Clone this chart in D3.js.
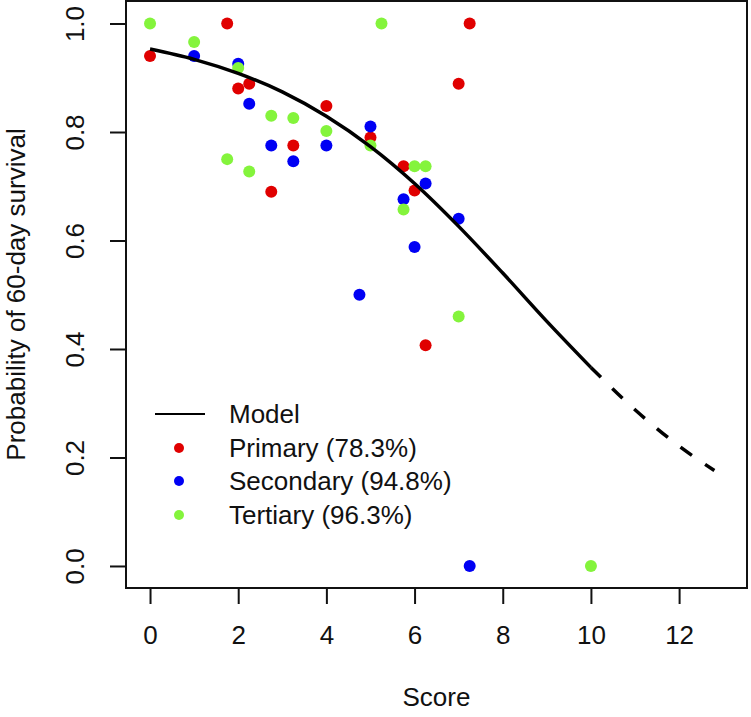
<!DOCTYPE html>
<html>
<head>
<meta charset="utf-8">
<script src="https://cdn.jsdelivr.net/npm/d3@7"></script>
<style>
  html, body { margin: 0; padding: 0; background: #fff; }
  svg { display: block; font-family: "Liberation Sans", Arial, sans-serif; }
</style>
</head>
<body>
<svg id="chart" width="751" height="717"></svg>
<script>
// ---- data ----
const primaryScore = [0, 1.75, 2, 2.25, 2.75, 3.25, 4, 5, 5.75, 6, 6.25, 7, 7.25];
const primarySurv  = [0.94, 1.0, 0.88, 0.889, 0.69, 0.775, 0.848, 0.79, 0.737, 0.692, 0.407, 0.889, 1.0];

const secondaryScore = [1, 2, 2.25, 2.75, 3.25, 4, 4.75, 5, 5.75, 6, 6.25, 7, 7.25];
const secondarySurv  = [0.94, 0.926, 0.852, 0.775, 0.746, 0.775, 0.5, 0.81, 0.676, 0.588, 0.705, 0.64, 0.0];

const tertiaryScore = [0, 1, 1.75, 2, 2.25, 2.75, 3.25, 4, 5, 5.25, 5.75, 6, 6.25, 7, 10];
const tertiarySurv  = [1.0, 0.966, 0.75, 0.918, 0.727, 0.83, 0.826, 0.802, 0.775, 1.0, 0.657, 0.737, 0.737, 0.46, 0.0];

const modelScore = [0, 1, 2, 3, 4, 5, 6, 7, 8, 9, 10, 11, 12, 12.8];
const modelProb  = [0.953, 0.934, 0.908, 0.874, 0.829, 0.773, 0.705, 0.626, 0.540, 0.451, 0.366, 0.288, 0.221, 0.176];
const observedMax = 10;

const xTicks = [0, 2, 4, 6, 8, 10, 12];
const yTicks = [0, 0.2, 0.4, 0.6, 0.8, 1.0];

const seriesNames = ["Primary (78.3%)", "Secondary (94.8%)", "Tertiary (96.3%)"];
const seriesColors = ["#e00000", "#0000f4", "#84f43c"];

// ---- layout ----
const svg = d3.select("#chart");
svg.append("rect").attr("width", 751).attr("height", 717).attr("fill", "#fff");

const L = 126, R = 747, T = 1, B = 588;
const x = d3.scaleLinear().domain([-0.545, 13.54]).range([L, R]);
const y = d3.scaleLinear().domain([-0.0406, 1.0415]).range([B, T]);

const FS = 26;

// x axis
const xAxis = svg.append("g")
  .attr("transform", `translate(0,${B})`)
  .call(d3.axisBottom(x).tickValues(xTicks).tickSize(16).tickPadding(22).tickFormat(d3.format("d")));
xAxis.select(".domain").remove();
xAxis.selectAll(".tick line").attr("stroke", "#111").attr("stroke-width", 2);
xAxis.selectAll(".tick text").attr("font-size", FS).attr("fill", "#111")
  .attr("font-family", "'Liberation Sans', Arial, sans-serif");

// y axis
const yAxis = svg.append("g")
  .attr("transform", `translate(${L},0)`)
  .call(d3.axisLeft(y).tickValues(yTicks).tickSize(16).tickFormat(d3.format(".1f")));
yAxis.select(".domain").remove();
yAxis.selectAll(".tick line").attr("stroke", "#111").attr("stroke-width", 2);
yAxis.selectAll(".tick text")
  .attr("font-size", FS).attr("fill", "#111")
  .attr("font-family", "'Liberation Sans', Arial, sans-serif")
  .attr("transform", "rotate(-90)")
  .attr("x", 0).attr("y", -42).attr("dy", 0)
  .attr("text-anchor", "middle");

// axis titles
svg.append("text")
  .attr("x", (L + R) / 2).attr("y", 706)
  .attr("text-anchor", "middle").attr("font-size", FS).attr("fill", "#111")
  .text("Score");
svg.append("text")
  .attr("transform", `translate(25,${(T + B) / 2}) rotate(-90)`)
  .attr("text-anchor", "middle").attr("font-size", FS).attr("fill", "#111")
  .text("Probability of 60-day survival");

// points
const series = [
  { xs: primaryScore, ys: primarySurv },
  { xs: secondaryScore, ys: secondarySurv },
  { xs: tertiaryScore, ys: tertiarySurv }
];
series.forEach((s, i) => {
  svg.append("g").selectAll("circle")
    .data(s.xs.map((v, j) => [v, s.ys[j]]))
    .join("circle")
    .attr("cx", d => x(d[0]))
    .attr("cy", d => y(d[1]))
    .attr("r", 6)
    .attr("fill", seriesColors[i]);
});

// model curve
const model = modelScore.map((v, j) => [v, modelProb[j]]);
const line = d3.line().x(d => x(d[0])).y(d => y(d[1])).curve(d3.curveMonotoneX);
svg.append("path")
  .attr("d", line(model.filter(d => d[0] <= observedMax)))
  .attr("fill", "none").attr("stroke", "#000").attr("stroke-width", 3.5);
svg.append("path")
  .attr("d", line(model.filter(d => d[0] >= observedMax)))
  .attr("fill", "none").attr("stroke", "#000").attr("stroke-width", 3.5)
  .attr("stroke-dasharray", "14,16");

// box
svg.append("rect")
  .attr("x", L).attr("y", T).attr("width", R - L).attr("height", B - T)
  .attr("fill", "none").attr("stroke", "#111").attr("stroke-width", 2);

// legend
const lg = svg.append("g");
const rowY = [414, 448, 481, 515];
lg.append("line").attr("x1", 155).attr("x2", 205).attr("y1", rowY[0]).attr("y2", rowY[0])
  .attr("stroke", "#000").attr("stroke-width", 2);
lg.append("text").attr("x", 229).attr("y", rowY[0]).attr("dy", "0.36em")
  .attr("font-size", FS).attr("fill", "#111").text("Model");
seriesNames.forEach((name, i) => {
  lg.append("circle").attr("cx", 179).attr("cy", rowY[i + 1]).attr("r", 5).attr("fill", seriesColors[i]);
  lg.append("text").attr("x", 229).attr("y", rowY[i + 1]).attr("dy", "0.36em")
    .attr("font-size", FS).attr("fill", "#111").text(name);
});
</script>
</body>
</html>
